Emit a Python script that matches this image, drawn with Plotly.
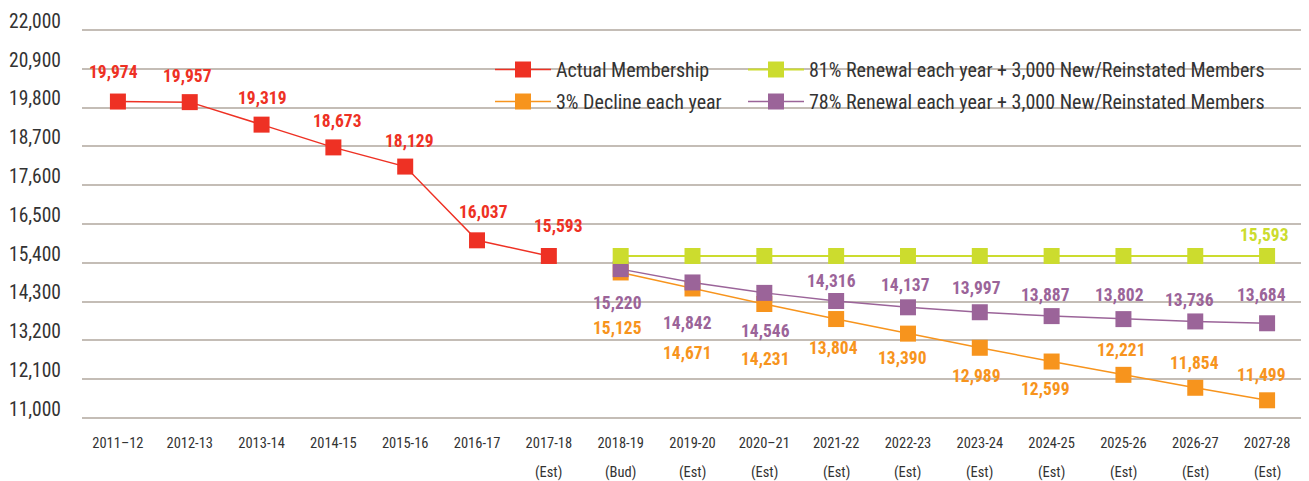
import plotly.graph_objects as go

# ---------------- data ----------------
years = ["2011–12", "2012-13", "2013-14", "2014-15", "2015-16", "2016-17", "2017-18",
         "2018-19", "2019-20", "2020–21", "2021-22", "2022-23", "2023-24", "2024-25",
         "2025-26", "2026-27", "2027-28"]
year_notes = ["", "", "", "", "", "", "(Est)", "(Bud)", "(Est)", "(Est)", "(Est)", "(Est)",
              "(Est)", "(Est)", "(Est)", "(Est)", "(Est)"]

actual_years = years[:7]
actual = [19974, 19957, 19319, 18673, 18129, 16037, 15593]

proj_years = years[7:]
decline3 = [15125, 14671, 14231, 13804, 13390, 12989, 12599, 12221, 11854, 11499]
renew81 = [15593] * 10
renew78 = [15220, 14842, 14546, 14316, 14137, 13997, 13887, 13802, 13736, 13684]

y_ticks = [11000, 12100, 13200, 14300, 15400, 16500, 17600, 18700, 19800, 20900, 22000]

# ---------------- styles ----------------
RED = "#EE3124"
ORANGE = "#F7941D"
GREEN = "#CCDC2E"
PURPLE = "#9B6499"
TXT = "#333333"
FONT = ("Roboto Condensed, Noto Sans Condensed, Open Sans Condensed, "
        "Liberation Sans Narrow, DejaVu Sans Condensed, sans-serif")

# label pixel offsets (dx, dy) per point
red_off = [(-4, 30), (-2, 26), (1, 27), (4, 26), (4, 26), (6, 28), (10, 30)]
orange_off = [(-3, -56), (-5, -65), (1, -55), (-3, -29), (-5, -24), (-3, -28), (-6, -27),
              (-2, 25), (-1, 25), (-6, 25)]
purple_off = [(-3, -34), (-5, -41), (1, -38), (-5, 20), (-2, 22), (-3, 24), (-6, 21),
              (-4, 24), (-6, 21), (-6, 28)]
green_off = {9: (-3, 21)}

LABEL_SIZE = 17.5
LEG_SIZE = 20
XTICK_SIZE = 14.5

fig = go.Figure()


def add_series(name, xs, ys, color, legend, group, rank, lw=1.5):
    fig.add_trace(go.Scatter(
        x=xs, y=ys, name=name, mode="lines+markers",
        line=dict(color=color, width=lw),
        marker=dict(symbol="square", size=16, color=color),
        legend=legend, legendgroup=group, legendrank=rank, hoverinfo="skip",
    ))


add_series("Actual Membership", actual_years, actual, RED, "legend", "a", 1)
add_series("3% Decline each year", proj_years, decline3, ORANGE, "legend", "b", 2)
add_series("78% Renewal each year + 3,000 New/Reinstated Members", proj_years, renew78, PURPLE, "legend2", "d", 2)
add_series("81% Renewal each year + 3,000 New/Reinstated Members", proj_years, renew81, GREEN, "legend2", "c", 1, lw=2)

annots = []


def label(xs, ys, offs, color):
    for i, (xv, yv) in enumerate(zip(xs, ys)):
        if isinstance(offs, dict):
            if i not in offs:
                continue
            dx, dy = offs[i]
        else:
            dx, dy = offs[i]
        annots.append(dict(
            x=xv, y=yv, xref="x", yref="y", text=f"{yv:,}", showarrow=False,
            xshift=dx, yshift=dy, xanchor="center", yanchor="middle",
            font=dict(family=FONT, size=LABEL_SIZE, color=color, weight="bold"),
        ))


label(actual_years, actual, red_off, RED)
label(proj_years, decline3, orange_off, ORANGE)
label(proj_years, renew78, purple_off, PURPLE)
label(proj_years, renew81, green_off, GREEN)

for yr, note in zip(years, year_notes):
    if note:
        annots.append(dict(
            x=yr, y=0, xref="x", yref="paper", text=note, showarrow=False,
            yshift=-52, xanchor="center", yanchor="middle",
            font=dict(family=FONT, size=XTICK_SIZE, color=TXT),
        ))

# page body has an 8px margin in the browser; figure is sized/placed to compensate
PLOT_T, PLOT_B = 20, 412
leg_y = 1 - (42 - PLOT_T) / (PLOT_B - PLOT_T)
leg_gap = max(0, 32 - (LEG_SIZE * 1.3 + 3))

fig.update_layout(
    width=1301, height=473,
    margin=dict(l=74, r=6, t=PLOT_T, b=473 - PLOT_B, autoexpand=False),
    paper_bgcolor="white", plot_bgcolor="white",
    font=dict(family=FONT, color=TXT),
    annotations=annots,
    showlegend=True,
    legend=dict(
        x=(482 - 74) / 1221, y=leg_y, xanchor="left", yanchor="top",
        orientation="v", bgcolor="rgba(0,0,0,0)", font=dict(family=FONT, size=LEG_SIZE, color=TXT),
        tracegroupgap=leg_gap, itemwidth=56,
    ),
    legend2=dict(
        x=(735 - 74) / 1221, y=leg_y, xanchor="left", yanchor="top",
        orientation="v", bgcolor="rgba(0,0,0,0)", font=dict(family=FONT, size=LEG_SIZE, color=TXT),
        tracegroupgap=leg_gap, itemwidth=56,
    ),
    xaxis=dict(
        type="category", categoryorder="array", categoryarray=years,
        tickmode="array", tickvals=years, ticktext=years,
        range=[-0.5, len(years) - 0.5], automargin=False,
        showgrid=False, showline=False, zeroline=False, ticks="",
        ticklabelstandoff=12,
        tickfont=dict(family=FONT, size=XTICK_SIZE, color=TXT),
    ),
    yaxis=dict(
        range=[10940, 22060], tickmode="array", tickvals=y_ticks,
        ticktext=[f"{v:,}" for v in y_ticks], automargin=False,
        showgrid=True, gridcolor="#c4bdb6", gridwidth=2,
        zeroline=False, showline=False, ticks="",
        ticklabelshift=-9, ticklabelstandoff=20,
        tickfont=dict(family=FONT, size=19.5, color=TXT),
    ),
)

fig.write_html("out.html")
